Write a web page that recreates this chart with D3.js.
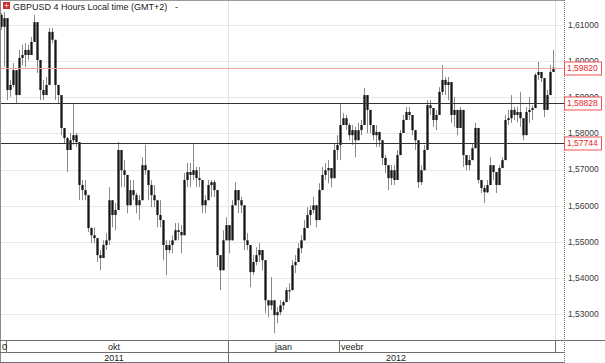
<!DOCTYPE html>
<html><head><meta charset="utf-8">
<script src="https://cdn.jsdelivr.net/npm/d3@7"></script>
<style>
html,body{margin:0;padding:0;background:#fff;}
svg{display:block;font-family:"Liberation Sans",Arial,sans-serif;}
</style>
</head><body>
<svg id="chart" width="605" height="363"></svg>
<script>
// ---------------- data ----------------
const chartTitle = "GBPUSD 4 Hours Local time (GMT+2)";

const open = [
1.6128,1.6095,1.6119,1.5920,1.5934,1.5975,1.5906,1.6009,1.6017,1.6031,
1.6017,1.6053,1.6108,1.6003,1.5920,1.5906,1.5934,1.6081,1.6059,1.5934,
1.5906,1.5815,1.5787,1.5754,1.5781,1.5795,1.5776,1.5657,1.5643,1.5629,
1.5538,1.5518,1.5510,1.5463,1.5455,1.5491,1.5504,1.5615,1.5574,1.5588,
1.5754,1.5698,1.5685,1.5601,1.5643,1.5629,1.5601,1.5615,1.5712,1.5698,
1.5657,1.5629,1.5615,1.5574,1.5560,1.5491,1.5477,1.5491,1.5504,1.5532,
1.5527,1.5518,1.5671,1.5693,1.5685,1.5698,1.5676,1.5671,1.5601,1.5615,
1.5657,1.5665,1.5643,1.5463,1.5421,1.5504,1.5546,1.5504,1.5601,1.5643,
1.5615,1.5601,1.5504,1.5491,1.5416,1.5444,1.5463,1.5477,1.5449,1.5338,
1.5324,1.5338,1.5297,1.5305,1.5324,1.5333,1.5366,1.5366,1.5435,1.5444,
1.5482,1.5504,1.5538,1.5574,1.5588,1.5601,1.5560,1.5643,1.5685,1.5698,
1.5704,1.5676,1.5754,1.5768,1.5823,1.5842,1.5823,1.5795,1.5809,1.5781,
1.5809,1.5823,1.5906,1.5865,1.5823,1.5795,1.5804,1.5781,1.5732,1.5712,
1.5676,1.5698,1.5671,1.5740,1.5801,1.5837,1.5859,1.5851,1.5809,1.5781,
1.5665,1.5698,1.5754,1.5878,1.5870,1.5837,1.5851,1.5915,1.5948,1.5934,
1.5942,1.5851,1.5865,1.5815,1.5865,1.5740,1.5712,1.5726,1.5759,1.5815,
1.5671,1.5649,1.5637,1.5657,1.5712,1.5693,1.5657,1.5704,1.5726,1.5837,
1.5842,1.5865,1.5851,1.5859,1.5842,1.5795,1.5859,1.5865,1.5870,1.5962,
1.5970,1.5953,1.5865,1.5906,1.5970];

const high = [
1.6133,1.6136,1.6119,1.5948,1.5995,1.5975,1.6031,1.6045,1.6050,1.6045,
1.6067,1.6128,1.6108,1.6003,1.5948,1.5956,1.6092,1.6092,1.6059,1.5934,
1.5906,1.5815,1.5790,1.5801,1.5884,1.5801,1.5776,1.5671,1.5671,1.5629,
1.5540,1.5540,1.5510,1.5477,1.5504,1.5524,1.5651,1.5615,1.5607,1.5776,
1.5754,1.5726,1.5685,1.5671,1.5671,1.5635,1.5629,1.5734,1.5768,1.5698,
1.5671,1.5657,1.5615,1.5615,1.5560,1.5504,1.5504,1.5518,1.5552,1.5552,
1.5546,1.5690,1.5718,1.5718,1.5773,1.5707,1.5707,1.5671,1.5629,1.5671,
1.5671,1.5671,1.5643,1.5463,1.5532,1.5568,1.5546,1.5615,1.5665,1.5643,
1.5624,1.5601,1.5524,1.5491,1.5463,1.5485,1.5496,1.5477,1.5449,1.5338,
1.5402,1.5338,1.5319,1.5338,1.5338,1.5374,1.5385,1.5449,1.5463,1.5496,
1.5518,1.5560,1.5596,1.5601,1.5624,1.5601,1.5662,1.5707,1.5718,1.5726,
1.5704,1.5773,1.5795,1.5884,1.5856,1.5851,1.5829,1.5823,1.5818,1.5829,
1.5837,1.5926,1.5906,1.5865,1.5823,1.5823,1.5804,1.5781,1.5740,1.5712,
1.5712,1.5712,1.5754,1.5809,1.5851,1.5873,1.5873,1.5851,1.5809,1.5781,
1.5712,1.5768,1.5892,1.5892,1.5870,1.5865,1.5928,1.5989,1.5956,1.5956,
1.5942,1.5901,1.5865,1.5873,1.5865,1.5740,1.5740,1.5773,1.5829,1.5815,
1.5671,1.5657,1.5671,1.5734,1.5712,1.5693,1.5712,1.5734,1.5851,1.5865,
1.5906,1.5873,1.5873,1.5915,1.5842,1.5873,1.5901,1.5878,1.5967,1.5998,
1.5970,1.5953,1.5920,1.5989,1.6031];

const low = [
1.6086,1.5984,1.5892,1.5901,1.5928,1.5884,1.5906,1.5989,1.5984,1.6003,
1.6017,1.6053,1.5967,1.5892,1.5892,1.5906,1.5934,1.6050,1.5892,1.5884,
1.5795,1.5773,1.5693,1.5754,1.5768,1.5762,1.5615,1.5615,1.5615,1.5527,
1.5496,1.5496,1.5444,1.5421,1.5455,1.5477,1.5491,1.5540,1.5532,1.5588,
1.5651,1.5651,1.5579,1.5601,1.5615,1.5579,1.5560,1.5615,1.5685,1.5615,
1.5596,1.5596,1.5540,1.5540,1.5449,1.5408,1.5468,1.5468,1.5504,1.5504,
1.5468,1.5518,1.5651,1.5651,1.5671,1.5651,1.5651,1.5579,1.5579,1.5615,
1.5624,1.5624,1.5430,1.5366,1.5421,1.5504,1.5468,1.5504,1.5601,1.5579,
1.5579,1.5477,1.5477,1.5374,1.5408,1.5435,1.5444,1.5421,1.5302,1.5291,
1.5311,1.5247,1.5275,1.5297,1.5311,1.5333,1.5338,1.5366,1.5413,1.5444,
1.5468,1.5504,1.5538,1.5546,1.5579,1.5540,1.5560,1.5643,1.5671,1.5662,
1.5651,1.5676,1.5726,1.5726,1.5823,1.5809,1.5781,1.5768,1.5734,1.5781,
1.5795,1.5823,1.5801,1.5801,1.5781,1.5762,1.5762,1.5712,1.5690,1.5643,
1.5657,1.5657,1.5671,1.5740,1.5801,1.5837,1.5837,1.5795,1.5754,1.5649,
1.5657,1.5698,1.5754,1.5851,1.5818,1.5809,1.5851,1.5906,1.5906,1.5892,
1.5829,1.5818,1.5795,1.5815,1.5707,1.5698,1.5698,1.5726,1.5759,1.5662,
1.5635,1.5607,1.5635,1.5657,1.5671,1.5635,1.5657,1.5704,1.5726,1.5823,
1.5829,1.5837,1.5831,1.5818,1.5781,1.5795,1.5829,1.5837,1.5870,1.5948,
1.5942,1.5845,1.5865,1.5906,1.5970];

const close = [
1.6095,1.6119,1.5920,1.5934,1.5975,1.5906,1.6009,1.6017,1.6031,1.6017,
1.6053,1.6108,1.6003,1.5920,1.5906,1.5934,1.6081,1.6059,1.5934,1.5906,
1.5815,1.5787,1.5754,1.5781,1.5795,1.5776,1.5657,1.5643,1.5629,1.5538,
1.5518,1.5510,1.5463,1.5455,1.5491,1.5504,1.5615,1.5574,1.5588,1.5754,
1.5698,1.5685,1.5601,1.5643,1.5629,1.5601,1.5615,1.5712,1.5698,1.5657,
1.5629,1.5615,1.5574,1.5560,1.5491,1.5477,1.5491,1.5504,1.5532,1.5527,
1.5518,1.5671,1.5693,1.5685,1.5698,1.5676,1.5671,1.5601,1.5615,1.5657,
1.5665,1.5643,1.5463,1.5421,1.5504,1.5546,1.5504,1.5601,1.5643,1.5615,
1.5601,1.5504,1.5491,1.5416,1.5444,1.5463,1.5477,1.5449,1.5338,1.5324,
1.5338,1.5297,1.5305,1.5324,1.5333,1.5366,1.5366,1.5435,1.5444,1.5482,
1.5504,1.5538,1.5574,1.5588,1.5601,1.5560,1.5643,1.5685,1.5698,1.5704,
1.5676,1.5754,1.5768,1.5823,1.5842,1.5823,1.5795,1.5809,1.5781,1.5809,
1.5823,1.5906,1.5865,1.5823,1.5795,1.5804,1.5781,1.5732,1.5712,1.5676,
1.5698,1.5671,1.5740,1.5801,1.5837,1.5859,1.5851,1.5809,1.5781,1.5665,
1.5698,1.5754,1.5878,1.5870,1.5837,1.5851,1.5915,1.5948,1.5934,1.5942,
1.5851,1.5865,1.5815,1.5865,1.5740,1.5712,1.5726,1.5759,1.5815,1.5671,
1.5649,1.5637,1.5657,1.5712,1.5693,1.5657,1.5704,1.5726,1.5837,1.5842,
1.5865,1.5851,1.5859,1.5842,1.5795,1.5859,1.5865,1.5870,1.5962,1.5970,
1.5953,1.5865,1.5906,1.5970,1.5982];

const priceTicks = [1.53,1.54,1.55,1.56,1.57,1.58,1.59,1.60,1.61];
const levelValues = [1.59820, 1.58828, 1.57744];
const levelKinds  = ["bid", "line", "line"];

const monthLabels = ["0", "okt", "jaan", "veebr"];
const monthStartIdx = [0, 2, 76, 113];   // candle index where each month cell begins
const monthEndIdx = 185;                 // candle index after the last bar
const yearLabels = ["2011", "2012"];
const yearStartIdx = [0, 76];
const totalSlots = 188;                  // slots incl. right margin of the plot

// ---------------- layout ----------------
const W = 605, H = 363;
const plot = {left: 0, right: 564, top: 0, bottom: 340};
const svg = d3.select("#chart");

const x = d3.scaleLinear().domain([0, totalSlots]).range([plot.left, plot.right]);
const y = d3.scaleLinear().domain([1.53, 1.61]).range([314, 25]);
const crisp = v => Math.round(v) + 0.5;
const fmt = v => d3.format(".5f")(v).replace(".", ",");

svg.append("rect").attr("width", W).attr("height", H).attr("fill", "#fff");

// horizontal grid
svg.append("g").selectAll("line").data(priceTicks).join("line")
  .attr("x1", plot.left).attr("x2", plot.right)
  .attr("y1", d => crisp(y(d))).attr("y2", d => crisp(y(d)))
  .attr("stroke", "#e9e9e9").attr("stroke-width", 1);

// vertical grid at year boundary and end of last month
const vGrid = [yearStartIdx[1], monthEndIdx];
svg.append("g").selectAll("line").data(vGrid).join("line")
  .attr("x1", d => crisp(x(d))).attr("x2", d => crisp(x(d)))
  .attr("y1", plot.top).attr("y2", plot.bottom)
  .attr("stroke", "#e4e4e4");

// candles
const candles = d3.range(close.length).map(i => ({i, o: open[i], h: high[i], l: low[i], c: close[i]}));
const cg = svg.append("g");
cg.selectAll("line").data(candles).join("line")
  .attr("x1", d => x(d.i + 0.5)).attr("x2", d => x(d.i + 0.5))
  .attr("y1", d => y(d.h)).attr("y2", d => y(d.l))
  .attr("stroke", "#8a8a8a").attr("stroke-width", 1);
cg.selectAll("rect").data(candles).join("rect")
  .attr("x", d => x(d.i + 0.5) - 1.15)
  .attr("width", 2.3)
  .attr("y", d => Math.min(y(d.o), y(d.c)))
  .attr("height", d => Math.max(1.2, Math.abs(y(d.o) - y(d.c))))
  .attr("fill", "#151515");

// level lines
svg.append("g").selectAll("line").data(levelValues).join("line")
  .attr("x1", plot.left).attr("x2", plot.right)
  .attr("y1", d => crisp(y(d))).attr("y2", d => crisp(y(d)))
  .attr("stroke", (d, i) => levelKinds[i] === "bid" ? "#f2a0a0" : "#333")
  .attr("stroke-width", 1);

// frame
svg.append("line").attr("x1", 0).attr("x2", plot.right).attr("y1", 0.5).attr("y2", 0.5).attr("stroke", "#9a9a9a");
svg.append("line").attr("x1", 0.5).attr("x2", 0.5).attr("y1", 0).attr("y2", H).attr("stroke", "#8a8a8a");
svg.append("line").attr("x1", plot.right + 0.5).attr("x2", plot.right + 0.5).attr("y1", 0).attr("y2", H)
  .attr("stroke", "#777").attr("stroke-dasharray", "1,1");

// right axis labels
svg.append("g").selectAll("text").data(priceTicks).join("text")
  .attr("x", 568).attr("y", d => y(d)).attr("dy", "0.35em")
  .attr("font-size", "8.5px").attr("fill", "#3a3a3a").text(fmt);

// level boxes
const lb = svg.append("g").selectAll("g").data(levelValues).join("g")
  .attr("transform", d => `translate(0,${crisp(y(d))})`);
lb.append("rect").attr("x", 564.5).attr("y", -6.5).attr("width", 37).attr("height", 13)
  .attr("fill", "#fff").attr("stroke", "#f05050");
lb.append("text").attr("x", 567).attr("y", 0).attr("dy", "0.35em")
  .attr("font-size", "8.5px").attr("fill", "#e8282a").text(fmt);

// bottom time axis
const axC = "#6e6e6e";
const axg = svg.append("g");
axg.append("line").attr("x1", 0).attr("x2", W).attr("y1", 340.5).attr("y2", 340.5).attr("stroke", axC);
axg.append("line").attr("x1", 0).attr("x2", plot.right).attr("y1", 352.5).attr("y2", 352.5).attr("stroke", axC);
axg.append("line").attr("x1", 0).attr("x2", plot.right).attr("y1", 362.5).attr("y2", 362.5).attr("stroke", axC);
const monthBounds = monthStartIdx.slice(1).concat([monthEndIdx]);
axg.selectAll("line.m").data(monthBounds).join("line").attr("class", "m")
  .attr("x1", d => crisp(x(d))).attr("x2", d => crisp(x(d)))
  .attr("y1", 340).attr("y2", 352).attr("stroke", axC);
axg.selectAll("line.yb").data(yearStartIdx.slice(1)).join("line").attr("class", "yb")
  .attr("x1", d => crisp(x(d))).attr("x2", d => crisp(x(d)))
  .attr("y1", 352).attr("y2", 363).attr("stroke", axC);

const monthAnchor = ["start", "middle", "middle", "start"];
axg.selectAll("text.m").data(monthLabels).join("text").attr("class", "m")
  .attr("x", (d, i) => {
    const a = x(monthStartIdx[i]), b = x(i + 1 < monthStartIdx.length ? monthStartIdx[i + 1] : monthEndIdx);
    return monthAnchor[i] === "middle" ? (i === 1 ? (x(0) + b) / 2 : (a + b) / 2) : a + 2;
  })
  .attr("y", 349.5).attr("text-anchor", (d, i) => monthAnchor[i])
  .attr("font-size", "9px").attr("fill", "#222").text(d => d);

axg.selectAll("text.yr").data(yearLabels).join("text").attr("class", "yr")
  .attr("x", (d, i) => (x(yearStartIdx[i]) + x(i + 1 < yearStartIdx.length ? yearStartIdx[i + 1] : totalSlots)) / 2)
  .attr("y", 360.5).attr("text-anchor", "middle")
  .attr("font-size", "9px").attr("fill", "#222").text(d => d);

// title
const tg = svg.append("g");
tg.append("rect").attr("x", 3).attr("y", 2).attr("width", 7).attr("height", 7).attr("fill", "#c9302c");
tg.append("path").attr("d", "M4.5,5.5h4M6.5,3.5v4").attr("stroke", "#f6d0d0").attr("stroke-width", 0.8);
tg.append("text").attr("x", 13).attr("y", 9.5).attr("font-size", "9px").attr("fill", "#222").text(chartTitle);
tg.append("text").attr("x", 175).attr("y", 9.5).attr("font-size", "9px").attr("fill", "#222").text("-");
</script>
</body></html>
